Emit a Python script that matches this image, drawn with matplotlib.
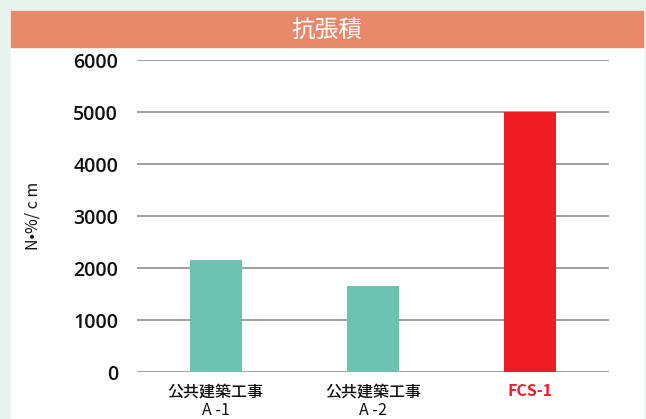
import matplotlib
matplotlib.use('Agg')
import matplotlib.pyplot as plt
from matplotlib.patches import Rectangle

# data
categories = ['公共建築工事', '公共建築工事', 'FCS-1']
sublabels = ['A -1', 'A -2', '']
values = [2150, 1650, 5000]
bar_colors = ['#6ec2b0', '#6ec2b0', '#ee1c25']
label_colors = ['#111111', '#111111', '#ee1c25']
label_weights = ['medium', 'medium', 'bold']
yticks = [0, 1000, 2000, 3000, 4000, 5000, 6000]
title = '抗張積'
ylabel = 'N•%/ c m'

plt.rcParams['font.family'] = ['Noto Sans CJK JP', 'DejaVu Sans']

W, H = 646, 419
fig = plt.figure(figsize=(W / 100, H / 100), dpi=100)
fig.patch.set_facecolor('#e8f3ee')

# white panel and title band (behind the axes)
fig.patches.append(Rectangle((11 / W, 0), 632 / W, 1 - 11 / H,
                             transform=fig.transFigure, color='white', zorder=-3))
fig.patches.append(Rectangle((11 / W, 1 - 47 / H), 632 / W, 36 / H,
                             transform=fig.transFigure, color='#e8886a', zorder=-2))
fig.text(327 / W, 1 - 30 / H, title, color='white', fontsize=17,
         ha='center', va='center')
fig.text(33 / W, 1 - 216 / H, ylabel, rotation=90, fontsize=11.5,
         color='#111111', ha='center', va='center')

ax = fig.add_axes([137 / W, 1 - 372 / H, 472 / W, 312 / H])
ax.set_facecolor('none')
x = list(range(len(categories)))
ax.bar(x, values, width=0.33, color=bar_colors, zorder=3)
ax.set_xlim(-0.5, 2.5)
ax.set_ylim(0, 6000)
ax.set_yticks(yticks)
ax.set_yticklabels([str(v) for v in yticks], family='Open Sans',
                   fontsize=14, fontweight='semibold', color='#111111')
ax.yaxis.grid(True, color='#999999', linewidth=1.3)
ax.set_axisbelow(True)
ax.tick_params(axis='y', length=0, pad=13.5)
ax.tick_params(axis='x', length=0, pad=8)
ax.set_xticks(x)
ax.set_xticklabels(categories, fontsize=11.5)
for lab, c, w in zip(ax.get_xticklabels(), label_colors, label_weights):
    lab.set_color(c)
    lab.set_fontweight(w)
for xi, s in zip(x, sublabels):
    ax.text(xi, -0.122, s, transform=ax.get_xaxis_transform(), fontsize=11.5,
            ha='center', va='center', color='#111111')
for s in ax.spines.values():
    s.set_visible(False)

fig.savefig('out.png', dpi=100, facecolor=fig.get_facecolor())
